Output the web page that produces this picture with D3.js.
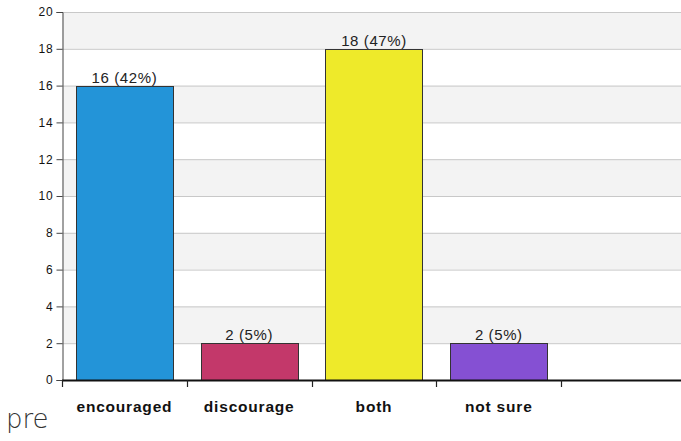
<!DOCTYPE html>
<html><head><meta charset="utf-8">
<script src="https://cdn.jsdelivr.net/npm/d3@7"></script>
<style>body{margin:0;background:#fff}svg{display:block}</style>
</head><body>
<script>
const categories = ["encouraged", "discourage", "both", "not sure", ""];
const values = [16, 2, 18, 2, null];
const valueLabels = ["16 (42%)", "2 (5%)", "18 (47%)", "2 (5%)", ""];
const colors = ["#2394d8", "#c3386a", "#eeea2a", "#8550d3", "none"];
const yTicks = [0, 2, 4, 6, 8, 10, 12, 14, 16, 18, 20];
const title = "pre";

(function () {
const W = 681, H = 441;
const svg = d3.select("body").append("svg").attr("width", W).attr("height", H);
const mLeft = 62, mTop = 12, mBottom = 380, plotRight = 686;

const x = d3.scaleBand().domain(d3.range(categories.length)).range([mLeft, plotRight]).paddingInner(0.22).paddingOuter(0.11);
const slot = d3.scaleBand().domain(d3.range(categories.length)).range([mLeft, plotRight]);
const y = d3.scaleLinear().domain([0, 20]).range([mBottom, mTop]);

// alternating bands
const bandStarts = yTicks.slice(0, -1).filter(v => v % 4 === 2);
svg.selectAll("rect.band").data(bandStarts).join("rect")
  .attr("x", mLeft).attr("width", W - mLeft)
  .attr("y", d => y(d + 2)).attr("height", d => y(d) - y(d + 2))
  .attr("fill", "#f3f3f3");

// grid lines
svg.selectAll("line.grid").data(yTicks.slice(1)).join("line")
  .attr("x1", mLeft).attr("x2", W)
  .attr("y1", d => y(d) + 0.5).attr("y2", d => y(d) + 0.5)
  .attr("stroke", "#c8c8c8").attr("stroke-width", 1);

// bars
const idx = d3.range(4);
svg.selectAll("rect.bar").data(idx).join("rect")
  .attr("x", i => Math.round(x(i)) + 0.5)
  .attr("y", i => Math.round(y(values[i])) + 0.5)
  .attr("width", Math.round(x.bandwidth()))
  .attr("height", i => Math.round(y(0) - y(values[i])))
  .attr("fill", i => colors[i]).attr("stroke", "#333").attr("stroke-width", 1);

// value labels
svg.selectAll("text.val").data(idx).join("text")
  .attr("x", i => x(i) + x.bandwidth() / 2)
  .attr("y", i => y(values[i]) - 3)
  .attr("text-anchor", "middle")
  .attr("font-family", "Liberation Sans, Arial, sans-serif")
  .attr("font-size", 15).attr("letter-spacing", 0.6).attr("fill", "#222")
  .text(i => valueLabels[i]);

// y axis
const yAxis = svg.append("g").attr("transform", `translate(${mLeft + 0.5},0)`)
  .call(d3.axisLeft(y).tickValues(yTicks).tickSize(6).tickPadding(3));
yAxis.select(".domain").attr("stroke", "#444");
yAxis.selectAll(".tick line").attr("stroke", "#444");
yAxis.selectAll("text").attr("font-family", "Liberation Sans, Arial, sans-serif")
  .attr("font-size", 12).attr("letter-spacing", 0.8).attr("fill", "#111");

// x axis
svg.append("line").attr("x1", mLeft).attr("x2", W).attr("y1", mBottom + 0.5).attr("y2", mBottom + 0.5)
  .attr("stroke", "#111").attr("stroke-width", 2);
svg.selectAll("line.xt").data(d3.range(categories.length)).join("line")
  .attr("x1", i => Math.round(slot(i)) + 0.5).attr("x2", i => Math.round(slot(i)) + 0.5)
  .attr("y1", mBottom).attr("y2", mBottom + 7)
  .attr("stroke", "#222").attr("stroke-width", 1.2);

svg.selectAll("text.cat").data(d3.range(categories.length)).join("text")
  .attr("x", i => slot(i) + slot.bandwidth() / 2)
  .attr("y", 412)
  .attr("text-anchor", "middle")
  .attr("font-family", "Liberation Sans, Arial, sans-serif")
  .attr("font-weight", "bold").attr("font-size", 15.5).attr("letter-spacing", 0.8).attr("fill", "#111")
  .text(i => categories[i]);

svg.append("text").attr("x", 6).attr("y", 428)
  .attr("font-family", "DejaVu Sans, sans-serif").attr("font-weight", 300)
  .attr("font-size", 26).attr("fill", "#333").text(title);
})();
</script>
</body></html>
